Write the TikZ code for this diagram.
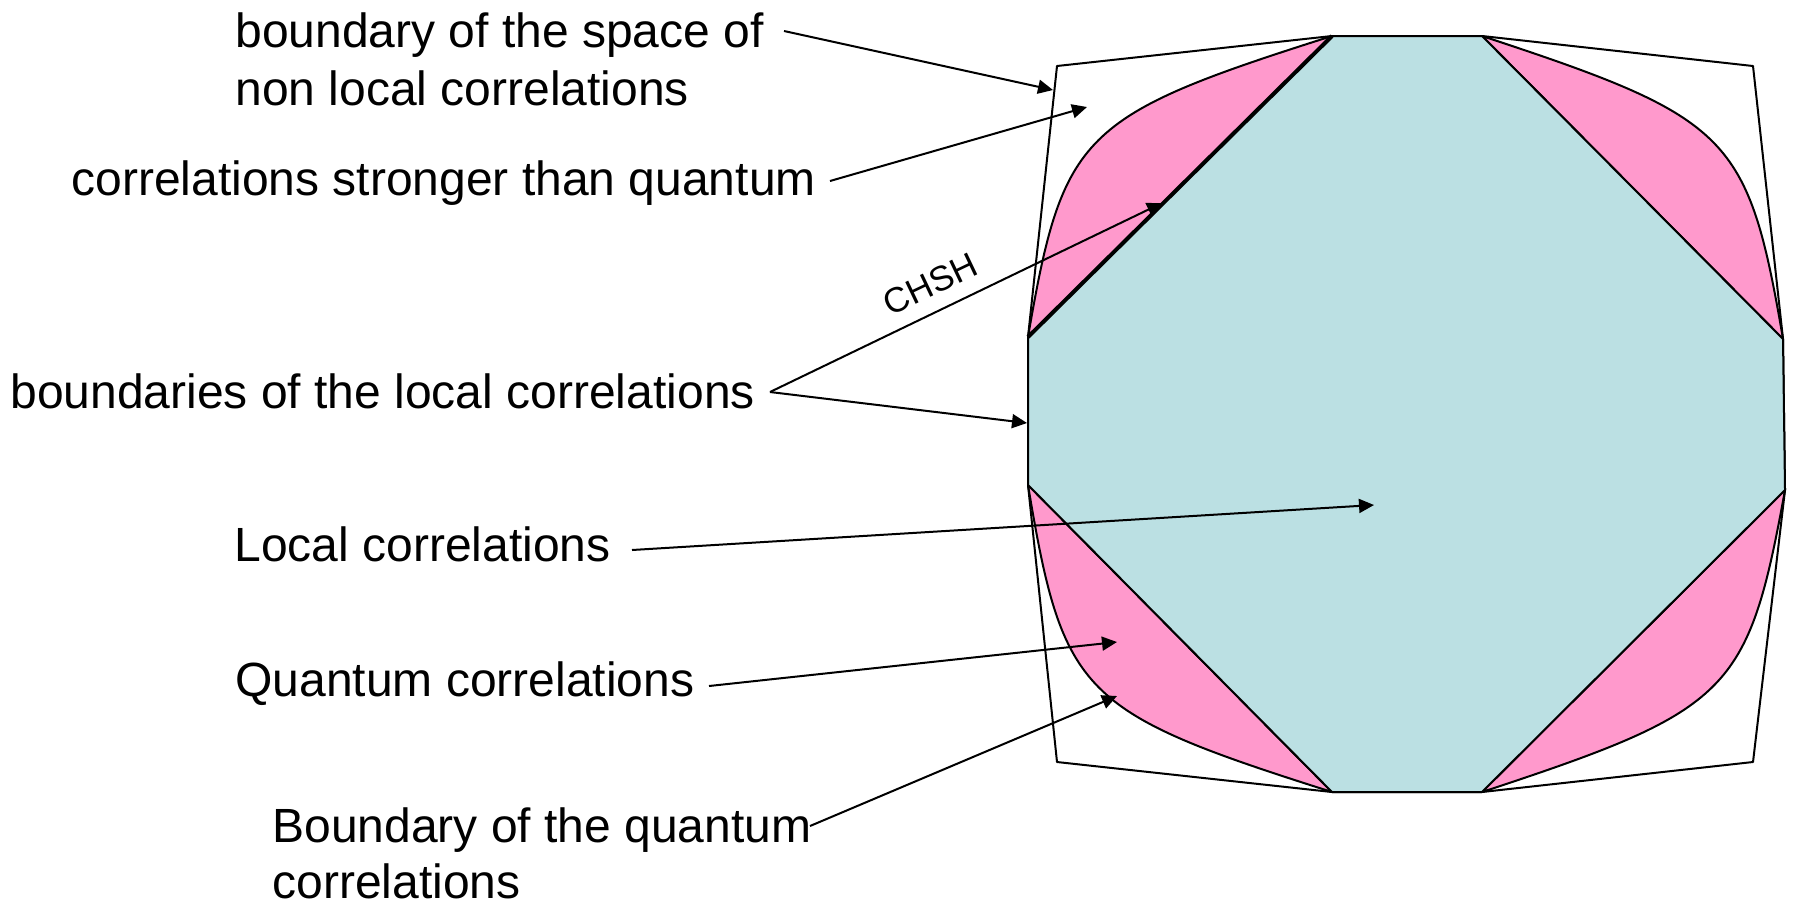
\documentclass[tikz,border=0pt]{standalone}
\usepackage{fontspec}
\setmainfont{Liberation Sans}
\usetikzlibrary{arrows.meta}
\definecolor{qpink}{HTML}{FF99CC}
\definecolor{lcyan}{HTML}{BBE0E3}
\begin{document}
\begin{tikzpicture}[x=0.5pt,y=-0.5pt,
  edge/.style={draw=black,line width=1pt,line join=round},
  arr/.style={draw=black,line width=1pt,-{Triangle[length=7.5pt,width=7pt]}},
  lbl/.style={anchor=base west,inner sep=0pt,font=\fontsize{24}{29}\selectfont}]
\useasboundingbox (0,0) rectangle (1793,907);
% octagon vertices
\coordinate (T1) at (1332,36);
\coordinate (T2) at (1482,36);
\coordinate (R1) at (1783,339);
\coordinate (R2) at (1785,490);
\coordinate (B2) at (1482,792);
\coordinate (B1) at (1332,792);
\coordinate (L2) at (1028,485);
\coordinate (L1) at (1028,337);
% outer corners
\coordinate (OTL) at (1057,66);
\coordinate (OTR) at (1753,66);
\coordinate (OBR) at (1753,762);
\coordinate (OBL) at (1057,762);
% outer boundary (non-local)
\draw[edge,fill=white] (OTL) -- (T1) -- (T2) -- (OTR) -- (R1) -- (R2) -- (OBR) -- (B2) -- (B1) -- (OBL) -- (L2) -- (L1) -- cycle;
% quantum regions
\draw[edge,fill=qpink] (T1) .. controls (1080,116) and (1063,133) .. (L1) -- cycle;
\draw[edge,fill=qpink] (T2) .. controls (1731,118) and (1748,135) .. (R1) -- cycle;
\draw[edge,fill=qpink] (B1) .. controls (1080,712) and (1063,695) .. (L2) -- cycle;
\draw[edge,fill=qpink] (B2) .. controls (1731,710) and (1748,693) .. (R2) -- cycle;
% local polytope
\draw[edge,fill=lcyan] (T1) -- (T2) -- (R1) -- (R2) -- (B2) -- (B1) -- (L2) -- (L1) -- cycle;
\draw[line width=2pt] (L1) -- (T1);
% labels
\node[lbl] (t1a) at (235,47) {boundary of the space of};
\node[lbl] (t1b) at (235,105) {non local correlations};
\node[lbl] (t2) at (71,195) {correlations stronger than quantum};
\node[lbl] (t3) at (10,408) {boundaries of the local correlations};
\node[lbl] (t4) at (234,561) {Local correlations};
\node[lbl] (t5) at (235,696) {Quantum correlations};
\node[lbl] (t6a) at (272,842) {Boundary of the quantum};
\node[lbl] (t6b) at (272,898) {correlations};
\node[inner sep=0pt,rotate=25.5,font=\fontsize{17.5}{21}\selectfont] (chsh) at (930,284) {CHSH};
% arrow coordinates
\coordinate (s1) at (784,31);
\coordinate (e1) at (1053,90);
\coordinate (s2) at (830,181);
\coordinate (e2) at (1087,107);
\coordinate (s3) at (770,392);
\coordinate (e3a) at (1162,203);
\coordinate (e3b) at (1027,423);
\coordinate (s4) at (632,550);
\coordinate (e4) at (1374,505);
\coordinate (s5) at (709,686);
\coordinate (e5) at (1117,642);
\coordinate (s6) at (810,826);
\coordinate (e6) at (1117,696);
\draw[arr] (s1) -- (e1);
\draw[arr] (s2) -- (e2);
\draw[arr] (s3) -- (e3a);
\draw[arr] (s3) -- (e3b);
\draw[arr] (s4) -- (e4);
\draw[arr] (s5) -- (e5);
\draw[arr] (s6) -- (e6);
\end{tikzpicture}
\end{document}
